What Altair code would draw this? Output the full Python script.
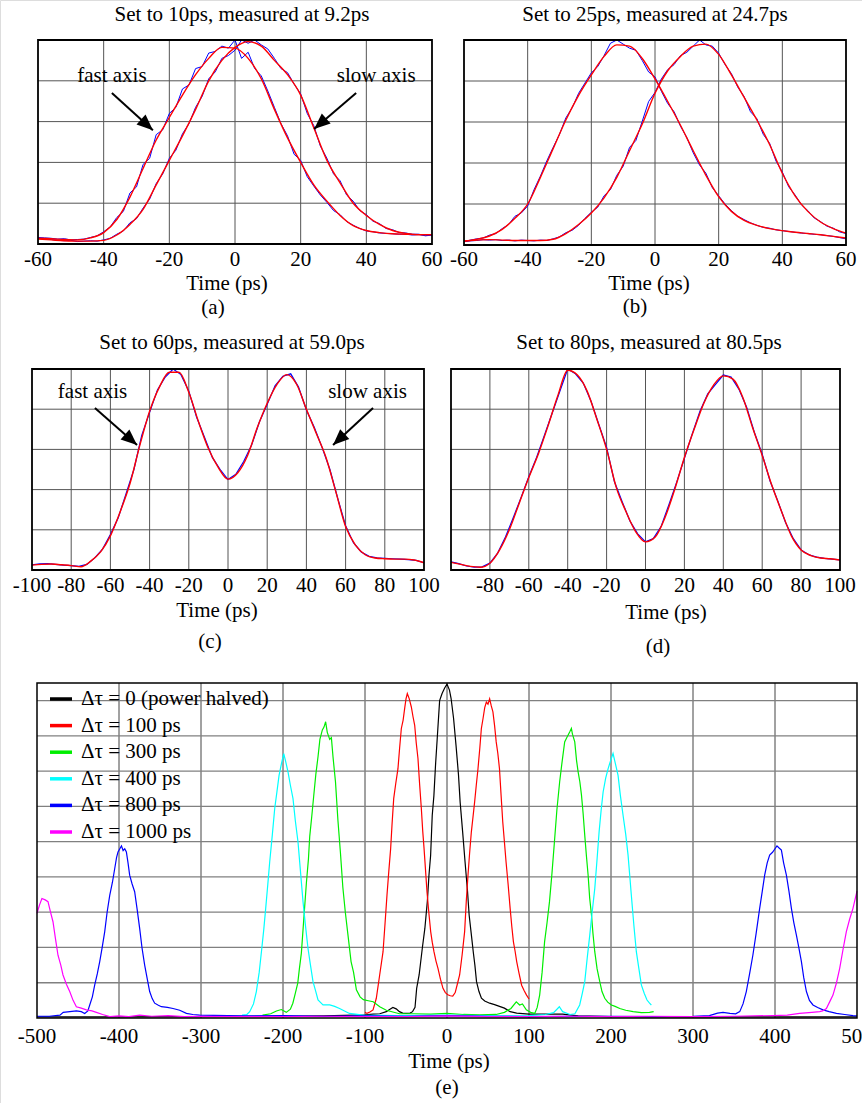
import altair as alt
import pandas as pd

FONT = "Liberation Serif"
FS = 21
W, H = 862, 1103

# ---------------------------------------------------------------------------
# (a) delay set to 10 ps: measured traces (2 ps steps) and fitted curves (4 ps)
A_T_MEAS = list(range(-60, 61, 2))
A_FAST_MEAS = [
    0.16, 0.15, 0.14, 0.12, 0.13, 0.10, 0.11, 0.12, 0.16, 0.20,
    0.30, 0.42, 0.65, 0.80, 1.25, 1.40, 1.95, 2.10, 2.68, 2.80,
    3.20, 3.35, 3.80, 3.90, 4.30, 4.35, 4.68, 4.72, 4.85, 4.80,
    5.00, 4.55, 4.70, 4.30, 4.12, 3.75, 3.35, 2.95, 2.65, 2.20,
    2.05, 1.65, 1.42, 1.20, 1.02, 0.82, 0.72, 0.55, 0.46, 0.38,
    0.32, 0.30, 0.27, 0.26, 0.25, 0.24, 0.24, 0.22, 0.23, 0.21,
    0.22]
A_SLOW_MEAS = [
    0.14, 0.12, 0.11, 0.09, 0.08, 0.09, 0.06, 0.07, 0.08, 0.07,
    0.10, 0.14, 0.24, 0.32, 0.52, 0.62, 0.88, 1.10, 1.48, 1.72,
    2.10, 2.30, 2.70, 2.95, 3.35, 3.62, 4.05, 4.22, 4.55, 4.62,
    4.75, 5.00, 4.92, 5.00, 4.88, 4.78, 4.55, 4.30, 4.20, 3.92,
    3.68, 3.20, 2.90, 2.40, 2.10, 1.72, 1.55, 1.20, 1.05, 0.82,
    0.72, 0.56, 0.50, 0.38, 0.35, 0.28, 0.27, 0.24, 0.24, 0.20,
    0.22]
A_T_FIT = list(range(-60, 61, 4))
A_FAST_FIT = [
    0.14, 0.13, 0.11, 0.10, 0.15, 0.28, 0.60, 1.15, 1.85, 2.55,
    3.10, 3.65, 4.15, 4.55, 4.82, 4.80, 4.55, 4.05, 3.30, 2.60,
    2.00, 1.45, 1.05, 0.70, 0.45, 0.33, 0.28, 0.25, 0.24, 0.23,
    0.23]
A_SLOW_FIT = [
    0.12, 0.10, 0.08, 0.07, 0.07, 0.09, 0.22, 0.48, 0.85, 1.45,
    2.05, 2.65, 3.30, 4.00, 4.50, 4.82, 4.96, 4.85, 4.50, 4.15,
    3.65, 2.85, 2.05, 1.50, 1.00, 0.70, 0.48, 0.33, 0.26, 0.23,
    0.23]

# (b) delay set to 25 ps
B_T_MEAS = list(range(-60, 61, 2))
B_FAST_MEAS = [
    0.08, 0.12, 0.15, 0.17, 0.24, 0.28, 0.40, 0.50, 0.70, 0.78,
    0.95, 1.35, 1.68, 2.05, 2.38, 2.70, 3.10, 3.35, 3.70, 3.95,
    4.20, 4.35, 4.62, 4.92, 5.00, 4.90, 4.80, 4.75, 4.50, 4.22,
    4.10, 3.75, 3.45, 3.25, 2.90, 2.62, 2.25, 1.95, 1.75, 1.40,
    1.20, 1.00, 0.84, 0.70, 0.62, 0.54, 0.48, 0.43, 0.41, 0.37,
    0.35, 0.33, 0.31, 0.29, 0.28, 0.26, 0.25, 0.23, 0.21, 0.18,
    0.15]
B_SLOW_MEAS = [
    0.08, 0.10, 0.11, 0.13, 0.12, 0.13, 0.11, 0.12, 0.10, 0.12,
    0.11, 0.10, 0.12, 0.11, 0.15, 0.20, 0.30, 0.36, 0.48, 0.65,
    0.80, 0.92, 1.20, 1.35, 1.70, 1.92, 2.38, 2.55, 3.02, 3.50,
    3.72, 4.05, 4.28, 4.40, 4.62, 4.70, 4.85, 5.00, 4.88, 4.85,
    4.68, 4.40, 4.18, 3.85, 3.62, 3.25, 3.08, 2.70, 2.48, 2.05,
    1.78, 1.42, 1.22, 0.98, 0.84, 0.66, 0.57, 0.46, 0.41, 0.32,
    0.28]
B_T_FIT = list(range(-60, 61, 4))
B_FAST_FIT = [
    0.09, 0.14, 0.22, 0.38, 0.65, 1.00, 1.65, 2.35, 3.05, 3.65,
    4.15, 4.60, 4.88, 4.85, 4.55, 4.05, 3.50, 2.92, 2.30, 1.70,
    1.18, 0.82, 0.60, 0.48, 0.40, 0.35, 0.31, 0.28, 0.25, 0.21,
    0.17]
B_SLOW_FIT = [
    0.10, 0.12, 0.13, 0.12, 0.11, 0.11, 0.11, 0.14, 0.28, 0.50,
    0.78, 1.15, 1.65, 2.30, 2.95, 3.70, 4.25, 4.60, 4.85, 4.90,
    4.65, 4.15, 3.60, 3.05, 2.45, 1.75, 1.20, 0.82, 0.56, 0.40,
    0.29]

# (c) delay set to 60 ps
C_T_MEAS = list(range(-100, 101, 4))
C_MEAS = [
    0.13, 0.15, 0.16, 0.14, 0.12, 0.11, 0.09, 0.14, 0.30, 0.52,
    0.88, 1.30, 1.90, 2.50, 3.35, 3.92, 4.48, 4.80, 5.00, 4.86,
    4.45, 3.80, 3.30, 2.80, 2.50, 2.25, 2.38, 2.70, 3.10, 3.68,
    4.12, 4.58, 4.82, 4.88, 4.55, 3.98, 3.55, 3.05, 2.50, 1.78,
    1.10, 0.68, 0.45, 0.34, 0.30, 0.29, 0.28, 0.27, 0.26, 0.24,
    0.18]
C_T_FIT = list(range(-100, 101, 5))
C_FIT = [
    0.12, 0.14, 0.15, 0.13, 0.11, 0.08, 0.22, 0.45, 0.85, 1.45,
    2.15, 3.10, 3.95, 4.55, 4.92, 4.92, 4.42, 3.68, 3.02, 2.55,
    2.26, 2.42, 2.85, 3.55, 4.15, 4.62, 4.86, 4.62, 4.00, 3.40,
    2.80, 1.95, 1.08, 0.62, 0.38, 0.30, 0.28, 0.27, 0.27, 0.25,
    0.18]

# (d) delay set to 80 ps
D_T_MEAS = list(range(-100, 101, 4))
D_MEAS = [
    0.20, 0.16, 0.10, 0.07, 0.08, 0.17, 0.42, 0.82, 1.30, 1.80,
    2.32, 2.80, 3.35, 3.90, 4.45, 5.00, 4.88, 4.65, 4.20, 3.62,
    3.05, 2.20, 1.70, 1.22, 0.90, 0.70, 0.78, 1.08, 1.62, 2.18,
    2.78, 3.38, 3.95, 4.38, 4.62, 4.85, 4.80, 4.50, 4.05, 3.42,
    2.88, 2.22, 1.72, 1.18, 0.78, 0.50, 0.38, 0.32, 0.29, 0.27,
    0.25]
D_T_FIT = list(range(-100, 101, 5))
D_FIT = [
    0.19, 0.14, 0.09, 0.07, 0.17, 0.50, 1.00, 1.65, 2.30, 2.90,
    3.60, 4.35, 4.97, 4.85, 4.45, 3.75, 3.00, 2.05, 1.45, 0.95,
    0.70, 0.82, 1.30, 2.00, 2.80, 3.50, 4.15, 4.60, 4.83, 4.75,
    4.30, 3.55, 2.85, 2.10, 1.45, 0.85, 0.50, 0.36, 0.30, 0.28,
    0.25]

# (e) pulse pairs for several differential delays: (time ps, intensity)
E_LABELS = ["Δτ = 0 (power halved)", "Δτ = 100 ps", "Δτ = 300 ps",
            "Δτ = 400 ps", "Δτ = 800 ps", "Δτ = 1000 ps"]
E_COLORS = ["#000000", "#ff0000", "#00ee00", "#00ffff", "#0000ff", "#ff00ff"]
E_DT0 = [
    (-500, 0.03), (-400, 0.03), (-300, 0.04), (-200, 0.05), (-150, 0.06), (-100, 0.09),
    (-90, 0.11), (-82, 0.12), (-74, 0.18), (-70, 0.24), (-66, 0.30), (-62, 0.26),
    (-58, 0.18), (-54, 0.14), (-50, 0.13), (-45, 0.14), (-42, 0.18), (-39, 0.30),
    (-37, 0.84), (-34, 1.22), (-30, 2.00), (-27, 2.54), (-24, 3.30), (-22, 4.05),
    (-20, 4.60), (-18, 5.75), (-16, 6.30), (-14, 7.17), (-12, 7.90), (-9, 9.00),
    (-6, 9.20), (-3, 9.35), (0, 9.47), (3, 9.30), (5, 9.06), (8, 8.50), (11, 7.73),
    (14, 6.90), (16, 6.13), (19, 5.30), (22, 4.43), (25, 3.60), (27, 2.92), (30, 2.30),
    (32, 1.88), (34, 1.50), (36, 1.03), (39, 0.75), (42, 0.56), (46, 0.48), (52, 0.42),
    (58, 0.38), (64, 0.33), (70, 0.28), (77, 0.18), (85, 0.14), (100, 0.11), (120, 0.11),
    (141, 0.11), (160, 0.06), (200, 0.04), (300, 0.03), (400, 0.03), (500, 0.03)]
E_DT100 = [
    (-100, 0.16), (-97.6, 0.13), (-94, 0.17), (-90.2, 0.23), (-86.2, 0.56), (-82.1, 1.22),
    (-78, 1.88), (-75.5, 2.70), (-73.2, 3.48), (-71, 4.15), (-68.7, 4.81), (-67, 5.50),
    (-65, 6.22), (-62.5, 6.65), (-59.8, 7.07), (-57.8, 7.65), (-55.7, 8.21), (-53.5, 8.45),
    (-51.5, 8.80), (-50, 9.05), (-48.4, 9.20), (-46, 9.05), (-43.5, 8.82), (-41.5, 8.55),
    (-39.4, 8.30), (-37.5, 7.80), (-35.4, 7.36), (-33.3, 6.60), (-31.3, 5.94), (-29.6, 5.30),
    (-28, 4.81), (-26.2, 4.20), (-24.4, 3.58), (-22.2, 3.00), (-19.9, 2.45), (-18, 2.15),
    (-15.9, 1.88), (-13.5, 1.62), (-11, 1.41), (-8, 1.10), (-4.9, 0.84), (-2, 0.72),
    (1, 0.66), (4, 0.63), (7, 0.62), (10, 0.72), (12.5, 0.95), (15.4, 1.22), (18.5, 1.80),
    (21.5, 2.45), (23.5, 3.30), (25.6, 4.05), (27.5, 4.65), (29.7, 5.28), (31.7, 5.70),
    (33.7, 6.13), (35.7, 6.60), (37.8, 7.07), (40, 7.65), (41.9, 8.21), (44, 8.50),
    (46, 8.80), (48, 8.96), (50, 8.90), (52, 9.05), (54, 8.85), (56, 8.68), (58, 8.30),
    (60, 7.83), (62, 7.50), (64, 7.07), (66, 6.30), (68, 5.56), (70, 5.00), (72, 4.43),
    (74.5, 3.80), (77, 3.11), (79, 2.60), (81, 2.16), (83, 1.90), (85, 1.60), (88, 1.25),
    (91, 0.93), (94, 0.78), (97, 0.65), (100, 0.54)]
E_DT300 = [
    (-225, 0.08), (-215, 0.12), (-208, 0.20), (-202, 0.24), (-196, 0.16), (-191, 0.25),
    (-188, 0.42), (-185, 0.70), (-182, 0.99), (-180, 1.40), (-177.6, 1.84), (-175, 2.69),
    (-171.5, 3.82), (-169, 4.50), (-167.4, 5.15), (-165, 5.70), (-162.6, 6.28), (-160, 6.90),
    (-157.3, 7.41), (-155, 7.90), (-152, 8.17), (-150, 8.25), (-148, 8.40), (-146, 8.10),
    (-143, 7.90), (-141, 7.95), (-139, 7.40), (-136, 6.70), (-133, 5.60), (-130, 4.70),
    (-127, 3.70), (-124, 3.00), (-121, 2.40), (-117, 1.60), (-114, 1.30), (-110.5, 0.80),
    (-106, 0.60), (-102, 0.52), (-96, 0.49), (-90, 0.46), (-82, 0.32), (-74, 0.22),
    (-66, 0.17), (-58, 0.12), (-40, 0.12), (-20, 0.11), (0, 0.13), (20, 0.10), (40, 0.09),
    (60, 0.10), (70, 0.16), (78, 0.27), (84.5, 0.46), (88.6, 0.37), (92, 0.40), (96.7, 0.23),
    (102, 0.16), (107, 0.13), (110, 0.30), (113, 0.65), (116, 1.30), (119, 2.16), (122, 2.70),
    (125, 3.30), (128, 4.10), (131, 4.99), (134, 5.90), (137.4, 6.70), (140, 7.20),
    (143.5, 7.83), (146, 7.95), (149.6, 8.11), (151.7, 8.21), (153, 8.05), (155.8, 7.83),
    (158, 7.30), (159.9, 6.98), (162, 6.70), (164, 6.32), (166, 5.80), (168, 5.18),
    (170, 4.60), (172.1, 4.05), (174, 3.40), (176.2, 2.92), (178, 2.40), (180.2, 1.88),
    (183, 1.40), (186.3, 1.03), (189, 0.75), (192.4, 0.56), (196, 0.45), (200.5, 0.37),
    (205, 0.33), (210.7, 0.27), (218, 0.22), (227, 0.18), (237, 0.15), (247, 0.16), (252, 0.18)]
E_DT400 = [
    (-250, 0.08), (-244, 0.10), (-240.6, 0.18), (-236, 0.40), (-232.5, 0.75), (-229, 1.30),
    (-226.3, 1.88), (-223.5, 2.50), (-221.1, 3.11), (-218.5, 3.80), (-216.2, 4.43),
    (-213, 5.20), (-210.1, 5.94), (-207.5, 6.40), (-204.8, 6.88), (-202, 7.20), (-199.1, 7.50),
    (-197, 7.30), (-193.9, 6.98), (-191, 6.60), (-187.8, 6.22), (-185, 5.60), (-181.7, 4.99),
    (-178.5, 4.10), (-175.6, 3.30), (-172.5, 2.60), (-169.5, 1.97), (-166.5, 1.50),
    (-163.4, 1.03), (-160, 0.75), (-157.3, 0.51), (-151.2, 0.37), (-143, 0.37), (-137, 0.33),
    (-131, 0.27), (-125, 0.20), (-119, 0.13), (-102, 0.08), (-60, 0.07), (0, 0.08), (60, 0.06),
    (100, 0.07), (120, 0.10), (130, 0.15), (137, 0.32), (141, 0.18), (150, 0.10), (156, 0.12),
    (161.8, 0.37), (165, 0.70), (168, 1.03), (171, 1.70), (174.1, 2.35), (177, 3.00),
    (180.2, 3.67), (183, 4.50), (185.5, 5.28), (188, 5.90), (190.4, 6.41), (193.5, 6.80),
    (196.5, 7.07), (199.5, 7.30), (202.5, 7.50), (205.5, 7.20), (208.6, 6.88), (211.5, 6.30),
    (214.7, 5.75), (218, 5.20), (220.8, 4.62), (223, 4.00), (224.8, 3.48), (228, 2.60),
    (230.9, 1.88), (234, 1.40), (237, 0.94), (240.5, 0.70), (243.9, 0.51), (247, 0.42),
    (249.2, 0.37)]
E_DT800 = [
    (-500, 0.05), (-485, 0.05), (-472, 0.08), (-468, 0.16), (-460, 0.18), (-452, 0.20),
    (-446, 0.18), (-441.8, 0.13), (-438, 0.20), (-435.7, 0.37), (-432.5, 0.60), (-429.6, 0.94),
    (-426.5, 1.25), (-423.5, 1.60), (-420.5, 2.00), (-417.4, 2.45), (-414.5, 3.00),
    (-411.3, 3.48), (-408, 3.85), (-405.2, 4.24), (-403, 4.55), (-401.2, 4.71), (-399, 4.80),
    (-397, 4.88), (-395, 4.75), (-393, 4.80), (-391, 4.71), (-389, 4.40), (-387, 4.05),
    (-384, 3.80), (-380.9, 3.58), (-378, 3.10), (-374.8, 2.54), (-372, 2.00), (-368.7, 1.50),
    (-365.5, 1.10), (-362.6, 0.75), (-359.5, 0.55), (-356.5, 0.42), (-352, 0.36),
    (-348.3, 0.32), (-341, 0.30), (-334.1, 0.27), (-326, 0.22), (-317.8, 0.13), (-310, 0.10),
    (-301.6, 0.08), (-250, 0.06), (-200, 0.07), (-150, 0.05), (-100, 0.06), (-50, 0.05),
    (0, 0.07), (50, 0.05), (100, 0.04), (150, 0.05), (200, 0.05), (250, 0.04), (300, 0.05),
    (320, 0.07), (330, 0.14), (336.6, 0.16), (345, 0.13), (352, 0.12), (357, 0.18),
    (361, 0.40), (365, 0.75), (369, 1.25), (373, 1.78), (377, 2.40), (381.3, 3.11),
    (384.5, 3.60), (387.4, 4.05), (390.5, 4.40), (393.5, 4.62), (397, 4.70), (400, 4.80),
    (402.4, 4.88), (405, 4.82), (407.8, 4.76), (410.5, 4.40), (413.9, 4.05), (417, 3.60),
    (420, 3.11), (423, 2.70), (426.1, 2.35), (429, 2.00), (432.2, 1.60), (435, 1.15),
    (438.3, 0.75), (442, 0.50), (446.3, 0.37), (452, 0.30), (458.5, 0.23), (466, 0.18),
    (474.9, 0.13), (485, 0.10), (495.1, 0.07), (500, 0.06)]
E_DT1000 = [
    (-500, 2.97), (-497, 3.20), (-494, 3.39), (-490, 3.35), (-486.6, 3.30), (-483.5, 3.00),
    (-480.5, 2.73), (-477.5, 2.25), (-474.4, 1.78), (-471, 1.50), (-468.3, 1.22), (-464, 0.95),
    (-460.1, 0.75), (-456, 0.50), (-452, 0.32), (-446, 0.28), (-439.8, 0.23), (-433, 0.20),
    (-427.6, 0.16), (-420, 0.10), (-411.3, 0.04), (-400, 0.06), (-388, 0.04), (-374.8, 0.08),
    (-360, 0.05), (-340, 0.07), (-320, 0.04), (-300, 0.05), (-250, 0.04), (-200, 0.04),
    (-150, 0.05), (-100, 0.04), (-50, 0.04), (0, 0.06), (50, 0.04), (100, 0.04), (150, 0.05),
    (200, 0.04), (250, 0.05), (300, 0.04), (350, 0.05), (397.6, 0.07), (415, 0.08),
    (430, 0.13), (445, 0.16), (454.5, 0.18), (458, 0.20), (462.7, 0.27), (466.5, 0.45),
    (470.7, 0.65), (475, 1.00), (478.9, 1.41), (483, 1.95), (487, 2.45), (491, 2.80),
    (495.1, 3.11), (498, 3.40), (500, 3.60)]
E_TRACES = [E_DT0, E_DT100, E_DT300, E_DT400, E_DT800, E_DT1000]

# axis annotations: label anchor (t, v), arrow start (t, v), arrow tip (t, v), head angle
A_NOTES = [("fast axis", -37.5, 3.98, -37.5, 3.70, -25.0, 2.79, 132),
           ("slow axis", 43.0, 3.98, 36.9, 3.70, 24.1, 2.82, 229)]
C_NOTES = [("fast axis", -69.1, 4.27, -67.9, 4.03, -46.4, 3.11, 131),
           ("slow axis", 71.2, 4.27, 74.0, 4.03, 53.6, 3.11, 227)]

# figure texts: (text, x, baseline y) in page pixels
FIG_TEXT = [
    ("Set to 10ps, measured at 9.2ps", 242, 20.5),
    ("Set to 25ps, measured at 24.7ps", 655, 21),
    ("Set to 60ps, measured at 59.0ps", 232, 349),
    ("Set to 80ps, measured at 80.5ps", 649, 349),
    ("Time (ps)", 227, 290), ("Time (ps)", 649, 290), ("Time (ps)", 217, 617),
    ("Time (ps)", 666, 619), ("Time (ps)", 449, 1068),
    ("(a)", 213, 314), ("(b)", 635, 313), ("(c)", 210, 648),
    ("(d)", 658, 653), ("(e)", 447, 1094),
]

ARROW_HEAD = "M0,0L0.42,1L-0.42,1Z"


def frame_df(xdom, ydom):
    return pd.DataFrame({"x0": [xdom[0]], "x1": [xdom[1]], "y0": [ydom[0]], "y1": [ydom[1]]})


def panel(xdom, xpix, ydom, ypix, ticks, vgrid, hgrid, tick_y,
          curves=(), notes=(), extra=(), vcol="#555555", hcol="#555555", hw=1.0, fw=1.8):
    xs = alt.Scale(domain=xdom, range=xpix, nice=False, zero=False)
    ys = alt.Scale(domain=ydom, range=ypix, nice=False, zero=False)
    vdf = pd.DataFrame({"g": vgrid, "lo": ydom[0], "hi": ydom[1]})
    hdf = pd.DataFrame({"g": hgrid, "lo": xdom[0], "hi": xdom[1]})
    layers = [
        alt.Chart(vdf).mark_rule(color=vcol, strokeWidth=1).encode(
            x=alt.X("g:Q", scale=xs, axis=None),
            y=alt.Y("lo:Q", scale=ys, axis=None), y2="hi:Q"),
        alt.Chart(hdf).mark_rule(color=hcol, strokeWidth=hw).encode(
            y=alt.Y("g:Q", scale=ys, axis=None),
            x=alt.X("lo:Q", scale=xs, axis=None), x2="hi:Q"),
    ]
    for ts, vs, color, width, interp in curves:
        df = pd.DataFrame({"t": list(ts), "v": list(vs)})
        layers.append(alt.Chart(df).mark_line(color=color, strokeWidth=width, interpolate=interp).encode(
            x=alt.X("t:Q", scale=xs, axis=None), y=alt.Y("v:Q", scale=ys, axis=None)))
    for ch in extra:
        layers.append(ch(xs, ys))
    layers.append(alt.Chart(frame_df(xdom, ydom)).mark_rect(fillOpacity=0, stroke="black", strokeWidth=fw).encode(
        x=alt.X("x0:Q", scale=xs, axis=None), x2="x1:Q",
        y=alt.Y("y0:Q", scale=ys, axis=None), y2="y1:Q"))
    # time tick labels below the frame
    tdf = pd.DataFrame({"g": ticks, "lab": [str(t) for t in ticks]})
    layers.append(alt.Chart(tdf).mark_text(font=FONT, fontSize=FS, align="center",
                                           baseline="alphabetic", color="black").encode(
        x=alt.X("g:Q", scale=xs, axis=None), y=alt.value(tick_y), text="lab:N"))
    if notes:
        ndf = pd.DataFrame(notes, columns=["label", "lx", "ly", "sx", "sy", "tx", "ty", "ang"])
        layers.append(alt.Chart(ndf).mark_text(font=FONT, fontSize=FS, align="center",
                                              baseline="alphabetic", color="black").encode(
            x=alt.X("lx:Q", scale=xs, axis=None), y=alt.Y("ly:Q", scale=ys, axis=None), text="label:N"))
        layers.append(alt.Chart(ndf).mark_rule(color="black", strokeWidth=2).encode(
            x=alt.X("sx:Q", scale=xs, axis=None), x2="tx:Q",
            y=alt.Y("sy:Q", scale=ys, axis=None), y2="ty:Q"))
        layers.append(alt.Chart(ndf).mark_point(shape=ARROW_HEAD, filled=True, size=1024,
                                               color="black", opacity=1, strokeWidth=0).encode(
            x=alt.X("tx:Q", scale=xs, axis=None), y=alt.Y("ty:Q", scale=ys, axis=None),
            angle=alt.Angle("ang:Q", scale=None)))
    return alt.layer(*layers)


BLUE, RED = "#0000ff", "#ff0000"
TICKS_60 = [-60, -40, -20, 0, 20, 40, 60]
GRID_60 = [-40, -20, 0, 20, 40]
TICKS_100 = list(range(-100, 101, 20))
GRID_100 = list(range(-80, 81, 20))
H5 = [1, 2, 3, 4]

panel_a = panel([-60, 60], [38, 432], [0, 5], [244, 40], TICKS_60, GRID_60, H5, 266,
                curves=[(A_T_MEAS, A_FAST_MEAS, BLUE, 1, "linear"),
                        (A_T_MEAS, A_SLOW_MEAS, BLUE, 1, "linear"),
                        (A_T_FIT, A_FAST_FIT, RED, 1.4, "monotone"),
                        (A_T_FIT, A_SLOW_FIT, RED, 1.4, "monotone")],
                notes=A_NOTES)
panel_b = panel([-60, 60], [464, 846], [0, 5], [245, 40], TICKS_60, GRID_60, H5, 266,
                curves=[(B_T_MEAS, B_FAST_MEAS, BLUE, 1, "linear"),
                        (B_T_MEAS, B_SLOW_MEAS, BLUE, 1, "linear"),
                        (B_T_FIT, B_FAST_FIT, RED, 1.4, "monotone"),
                        (B_T_FIT, B_SLOW_FIT, RED, 1.4, "monotone")])
panel_c = panel([-100, 100], [32, 424], [0, 5], [570, 369], TICKS_100, GRID_100, H5, 592,
                curves=[(C_T_MEAS, C_MEAS, BLUE, 1.2, "linear"),
                        (C_T_FIT, C_FIT, RED, 1.4, "monotone")],
                notes=C_NOTES)
panel_d = panel([-100, 100], [451, 840], [0, 5], [570, 369], TICKS_100[1:], GRID_100, H5, 592,
                curves=[(D_T_MEAS, D_MEAS, BLUE, 1.2, "linear"),
                        (D_T_FIT, D_FIT, RED, 1.4, "monotone")])

rows = []
for lab, pts in zip(E_LABELS, E_TRACES):
    rows += [{"series": lab, "t": t, "v": v} for t, v in pts]
E_DF = pd.DataFrame(rows)


def e_traces(xs, ys):
    legend = alt.Legend(orient="none", legendX=48, legendY=686, title=None, symbolType="stroke",
                        symbolSize=484, symbolStrokeWidth=3.5, labelFont=FONT, labelFontSize=FS,
                        labelColor="black", labelOffset=7, rowPadding=3.6, padding=0,
                        labelLimit=400)
    return alt.Chart(E_DF).mark_line(strokeWidth=1.2).encode(
        x=alt.X("t:Q", scale=xs, axis=None), y=alt.Y("v:Q", scale=ys, axis=None),
        color=alt.Color("series:N", scale=alt.Scale(domain=E_LABELS, range=E_COLORS), legend=legend))


panel_e = panel([-500, 500], [37, 857], [0, 9.5], [1018, 683], list(range(-500, 501, 100)),
                list(range(-400, 401, 100)), list(range(1, 10)), 1043,
                extra=[e_traces], vcol="#444444", hcol="#808080", hw=1.3, fw=1.5)

tdf = pd.DataFrame(FIG_TEXT, columns=["label", "px", "py"])
fig_text = alt.Chart(tdf).mark_text(font=FONT, fontSize=FS, align="center",
                                    baseline="alphabetic", color="black").encode(
    x=alt.X("px:Q", scale=None, axis=None), y=alt.Y("py:Q", scale=None, axis=None), text="label:N")

chart = alt.layer(panel_a, panel_b, panel_c, panel_d, panel_e, fig_text).resolve_scale(
    x="independent", y="independent"
).properties(
    width=W, height=H, autosize=alt.AutoSizeParams(type="none"), padding=0
).configure_view(stroke=None).configure(background="white")

chart.save("out.html", embed_options={"renderer": "svg", "actions": False})
